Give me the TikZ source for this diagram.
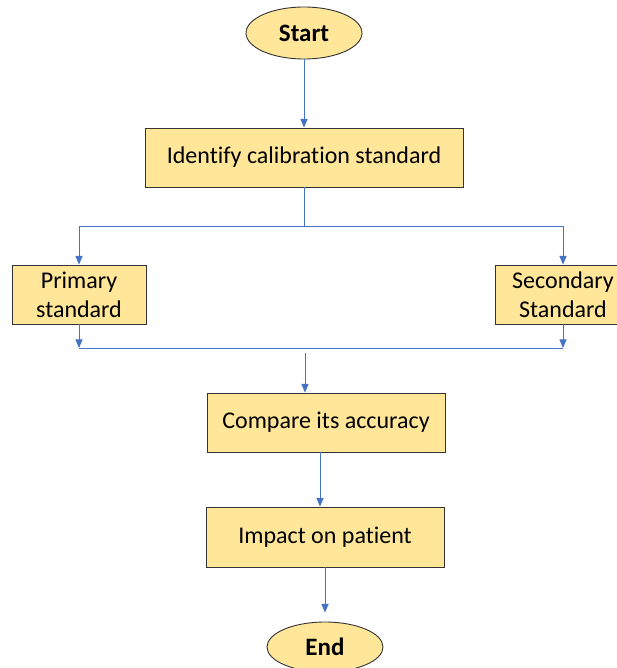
\documentclass[tikz,border=0pt]{standalone}
\usepackage{fontspec}
\setmainfont[Ligatures=NoCommon]{Carlito}
\usetikzlibrary{arrows,shapes.geometric,positioning}
\definecolor{boxfill}{HTML}{FFE699}
\definecolor{linkblue}{HTML}{4472C4}
\tikzset{
  stepbox/.style={draw=black!80,fill=boxfill,line width=0.9pt,align=center,
    font=\fontsize{24}{29}\selectfont,inner sep=0pt},
  term/.style={ellipse,draw=black!80,fill=boxfill,line width=0.9pt,
    font=\fontsize{25}{29}\selectfont\bfseries,inner sep=0pt,
    minimum width=116pt},
  link/.style={linkblue,line width=1pt},
  arr/.style={link,-triangle 45}
}
\begin{document}
\begin{tikzpicture}[x=1pt,y=-1pt]
\useasboundingbox(0,0)rectangle(617,668);
\node[term,minimum height=52pt](start)at(304,33){Start};
\node[stepbox,minimum width=318pt,minimum height=59pt](ident)at(304,157.5){Identify calibration standard};
\node[stepbox,minimum width=134pt,minimum height=59pt](prim)at(79,294.5){Primary\\standard};
\node[stepbox,minimum width=136pt,minimum height=59pt](sec)at(563,294.5){Secondary\\Standard};
\node[stepbox,minimum width=238pt,minimum height=59pt](comp)at(326,422.5){Compare its accuracy};
\node[stepbox,minimum width=238pt,minimum height=60pt](imp)at(325,537){Impact on patient};
\node[term,minimum height=50pt](end)at(325,647){End};
\coordinate(split)at(304,226);
\coordinate(splitL)at(79,226);
\coordinate(splitR)at(563,226);
\coordinate(joinL)at(79,348);
\coordinate(joinR)at(563,348);
\coordinate(join)at(305,353);
\draw[arr](start)--(ident);
\draw[link](ident.south)--(split)(splitL)--(splitR);
\draw[arr](splitL)--(prim.north);
\draw[arr](splitR)--(sec.north);
\draw[arr](prim.south)--(joinL);
\draw[arr](sec.south)--(joinR);
\draw[link](joinL)--(joinR);
\draw[arr](join)--(join|-comp.north);
\draw[arr]([xshift=-6pt]comp.south)--([xshift=-6pt]comp.south|-imp.north);
\draw[arr,shorten >=9pt](imp.south)--(imp.south|-end.north);
\end{tikzpicture}
\end{document}
